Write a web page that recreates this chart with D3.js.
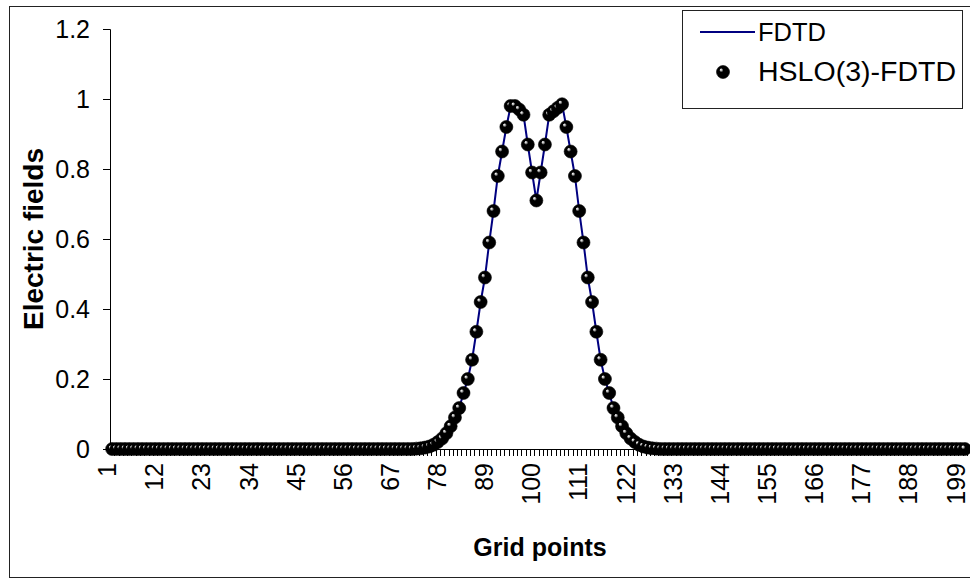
<!DOCTYPE html>
<html>
<head>
<meta charset="utf-8">
<script src="https://cdn.jsdelivr.net/npm/d3@7"></script>
<style>
  body { margin: 0; background: #fff; }
  text { font-family: "Liberation Sans", Arial, sans-serif; }
</style>
</head>
<body>
<script>
// Grid point numbers 1..200
const gridPoints = d3.range(1, 201);

// Electric field values (FDTD line and HSLO(3)-FDTD markers coincide)
const fdtd = [
  0, 0, 0, 0, 0, 0, 0, 0, 0, 0, 0, 0, 0, 0, 0, 0, 0, 0, 0, 0,
  0, 0, 0, 0, 0, 0, 0, 0, 0, 0, 0, 0, 0, 0, 0, 0, 0, 0, 0, 0,
  0, 0, 0, 0, 0, 0, 0, 0, 0, 0, 0, 0, 0, 0, 0, 0, 0, 0, 0, 0,
  0, 0, 0, 0, 0, 0, 0, 0, 0, 0, 0, 0.001, 0.002, 0.004, 0.007, 0.012, 0.02, 0.03, 0.045, 0.065,
  0.09, 0.117, 0.16, 0.2, 0.255, 0.335, 0.42, 0.49, 0.59, 0.68, 0.78, 0.85, 0.92, 0.98, 0.98, 0.97, 0.955, 0.87, 0.79, 0.71,
  0.79, 0.87, 0.955, 0.965, 0.975, 0.985, 0.92, 0.85, 0.78, 0.68, 0.59, 0.49, 0.42, 0.335, 0.255, 0.2, 0.16, 0.117, 0.09, 0.065,
  0.045, 0.03, 0.02, 0.012, 0.007, 0.004, 0.002, 0.001, 0, 0, 0, 0, 0, 0, 0, 0, 0, 0, 0, 0,
  0, 0, 0, 0, 0, 0, 0, 0, 0, 0, 0, 0, 0, 0, 0, 0, 0, 0, 0, 0,
  0, 0, 0, 0, 0, 0, 0, 0, 0, 0, 0, 0, 0, 0, 0, 0, 0, 0, 0, 0,
  0, 0, 0, 0, 0, 0, 0, 0, 0, 0, 0, 0, 0, 0, 0, 0, 0, 0, 0, 0
];
const hslo = fdtd.slice();

const yTicks = [0, 0.2, 0.4, 0.6, 0.8, 1, 1.2];
const xLabels = [1, 12, 23, 34, 45, 56, 67, 78, 89, 100, 111, 122, 133, 144, 155, 166, 177, 188, 199];
const seriesNames = ["FDTD", "HSLO(3)-FDTD"];

let width = 970,
    height = 581;

let margin = { top: 29, bottom: 132, left: 110, right: 3 };

let svg = d3.select('body')
  .append('svg')
  .attr('width', width)
  .attr('height', height)
  .style('background', '#fff');

// marker shading
let defs = svg.append('defs');
let grad = defs.append('radialGradient')
  .attr('id', 'ball')
  .attr('cx', '0.5').attr('cy', '0.5').attr('r', '0.5')
  .attr('fx', '0.32').attr('fy', '0.3');
grad.append('stop').attr('offset', '0%').attr('stop-color', '#fff');
grad.append('stop').attr('offset', '14%').attr('stop-color', '#bbb');
grad.append('stop').attr('offset', '32%').attr('stop-color', '#000');
grad.append('stop').attr('offset', '100%').attr('stop-color', '#000');

// outer chart border (right edge falls outside the picture)
svg.append('rect')
  .attr('x', 9.5).attr('y', 6.5)
  .attr('width', 970).attr('height', 571)
  .attr('fill', 'none')
  .attr('stroke', '#222')
  .attr('stroke-width', 1);

let xscale = d3.scaleBand()
  .domain(gridPoints)
  .range([margin.left, width - margin.right]);

let yscale = d3.scaleLinear()
  .domain([0, 1.2])
  .range([height - margin.bottom, margin.top]);

let x0 = height - margin.bottom;

// y axis
let yaxis = svg.append('g')
  .attr('transform', `translate(${margin.left},0)`)
  .call(d3.axisLeft(yscale).tickValues(yTicks).tickSize(7).tickPadding(13).tickFormat(d3.format('~g')));
yaxis.select('.domain').attr('stroke', '#000');
yaxis.selectAll('line').attr('stroke', '#000');
yaxis.selectAll('text')
  .style('font-size', '25px')
  .attr('fill', '#000');

// x axis line
svg.append('line')
  .attr('x1', margin.left).attr('x2', width - margin.right)
  .attr('y1', x0 + 0.5).attr('y2', x0 + 0.5)
  .attr('stroke', '#000');

// tick marks between categories
svg.append('g')
  .selectAll('line')
  .data(gridPoints)
  .enter().append('line')
  .attr('x1', d => Math.round(xscale(d) + xscale.bandwidth()) + 0.5)
  .attr('x2', d => Math.round(xscale(d) + xscale.bandwidth()) + 0.5)
  .attr('y1', x0)
  .attr('y2', x0 + 7)
  .attr('stroke', '#000')
  .attr('stroke-width', 1);

// rotated category labels
svg.append('g')
  .selectAll('text')
  .data(xLabels)
  .enter().append('text')
  .attr('transform', d => `translate(${xscale(d) + xscale.bandwidth() / 2 + 4},${x0 + 14}) rotate(-90)`)
  .attr('text-anchor', 'end')
  .style('font-size', '25px')
  .text(d => d);

// axis titles
svg.append('text')
  .attr('x', 540)
  .attr('y', 556)
  .attr('text-anchor', 'middle')
  .style('font-size', '25px')
  .style('font-weight', 'bold')
  .text('Grid points');

svg.append('text')
  .attr('transform', `translate(43,${(margin.top + x0) / 2}) rotate(-90)`)
  .attr('text-anchor', 'middle')
  .style('font-size', '28px')
  .style('font-weight', 'bold')
  .text('Electric fields');

// FDTD line
let line = d3.line()
  .x((d, i) => xscale(gridPoints[i]) + xscale.bandwidth() / 2)
  .y(d => yscale(d));

svg.append('path')
  .datum(fdtd)
  .attr('d', line)
  .attr('fill', 'none')
  .attr('stroke', '#000080')
  .attr('stroke-width', 2);

// HSLO(3)-FDTD markers
svg.append('g')
  .selectAll('circle')
  .data(hslo)
  .enter().append('circle')
  .attr('cx', (d, i) => xscale(gridPoints[i]) + xscale.bandwidth() / 2)
  .attr('cy', d => yscale(d))
  .attr('r', 6.5)
  .attr('fill', 'url(#ball)')
  .attr('stroke', '#000')
  .attr('stroke-width', 0.6);

// legend
let legend = svg.append('g');
legend.append('rect')
  .attr('x', 682.5).attr('y', 10.5)
  .attr('width', 280).attr('height', 98)
  .attr('fill', '#fff')
  .attr('stroke', '#222');

legend.append('line')
  .attr('x1', 700).attr('x2', 755)
  .attr('y1', 32).attr('y2', 32)
  .attr('stroke', '#000080')
  .attr('stroke-width', 2);

legend.append('circle')
  .attr('cx', 723).attr('cy', 72)
  .attr('r', 6.5)
  .attr('fill', 'url(#ball)')
  .attr('stroke', '#000')
  .attr('stroke-width', 0.6);

seriesNames.forEach((name, i) => {
  legend.append('text')
    .attr('x', 758)
    .attr('y', 41 + i * 40)
    .style('font-size', i === 0 ? '26px' : '27px')
    .attr('textLength', i === 0 ? 68 : 198)
    .attr('lengthAdjust', 'spacingAndGlyphs')
    .text(name);
});
</script>
</body>
</html>
